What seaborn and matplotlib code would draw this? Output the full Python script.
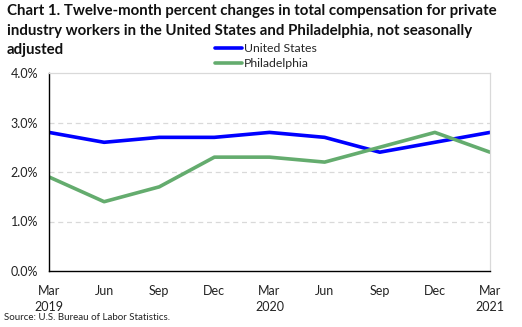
import matplotlib
matplotlib.use("Agg")
import matplotlib.pyplot as plt
import seaborn as sns
import pandas as pd
import numpy as np
from matplotlib.lines import Line2D

quarters = ["Mar\n2019", "Jun", "Sep", "Dec", "Mar\n2020", "Jun", "Sep", "Dec", "Mar\n2021"]
united_states = [2.8, 2.6, 2.7, 2.7, 2.8, 2.7, 2.4, 2.6, 2.8]
philadelphia = [1.9, 1.4, 1.7, 2.3, 2.3, 2.2, 2.5, 2.8, 2.4]
series_names = ["United States", "Philadelphia"]
y_ticks = [0.0, 1.0, 2.0, 3.0, 4.0]
title_lines = [
    "Chart 1. Twelve-month percent changes in total compensation for private",
    "industry workers in the United States and Philadelphia, not seasonally",
    "adjusted",
]

sns.set_theme(style="white")
plt.rcParams['font.family'] = ['Lato', 'DejaVu Sans']

df = pd.DataFrame({
    "idx": list(range(len(quarters))) * 2,
    "value": united_states + philadelphia,
    "series": [series_names[0]] * len(quarters) + [series_names[1]] * len(quarters),
})

fig = plt.figure(figsize=(5.22, 3.27), dpi=100)
ax = fig.add_axes([49/522, 1-271/327, (490-49)/522, (271-73)/327])

sns.lineplot(data=df, x="idx", y="value", hue="series",
             palette={series_names[0]: "#0000FF", series_names[1]: "#64AC6E"},
             linewidth=2.6, ax=ax, legend=False)

ax.set_xlim(0, len(quarters) - 1)
ax.set_ylim(0, 4)
ax.set_xticks(range(len(quarters)))
ax.set_xticklabels(quarters, fontsize=9, color="#222222", linespacing=1.45)
ax.set_yticks(y_ticks)
ax.set_yticklabels([f"{v:.1f}%" for v in y_ticks], fontsize=9, color="#222222")
ax.set_xlabel("")
ax.set_ylabel("")

for y in [1.0, 2.0, 3.0]:
    ax.axhline(y, color="#d9d9d9", linewidth=0.9, linestyle=(0, (4, 3)), zorder=0)

for s in ["top", "right"]:
    ax.spines[s].set_color("#d9d9d9")
    ax.spines[s].set_linewidth(0.9)
for s in ["left", "bottom"]:
    ax.spines[s].set_color("black")
    ax.spines[s].set_linewidth(1.0)

ax.tick_params(axis="x", direction="out", length=4, width=1, color="black", pad=6)
ax.tick_params(axis="y", length=0, pad=8)

for i, (line, yc) in enumerate(zip(title_lines, [11, 31, 50])):
    fig.text(7/522, 1-yc/327, line, fontsize=10.8, fontweight="bold",
             va="center", ha="left", color="#111111")

handles = [Line2D([0], [0], color="#0000FF", lw=2.6), Line2D([0], [0], color="#64AC6E", lw=2.6)]
fig.legend(handles, series_names, loc="upper left", bbox_to_anchor=(215/522, 1-43/327),
           frameon=False, fontsize=8.8, handlelength=2.2, handletextpad=0.2,
           borderpad=0, labelspacing=0.35, borderaxespad=0)

fig.text(4/522, 1-318/327, "Source: U.S. Bureau of Labor Statistics.", fontsize=7,
         va="center", ha="left", color="#222222")

fig.savefig("out.png", dpi=100)
